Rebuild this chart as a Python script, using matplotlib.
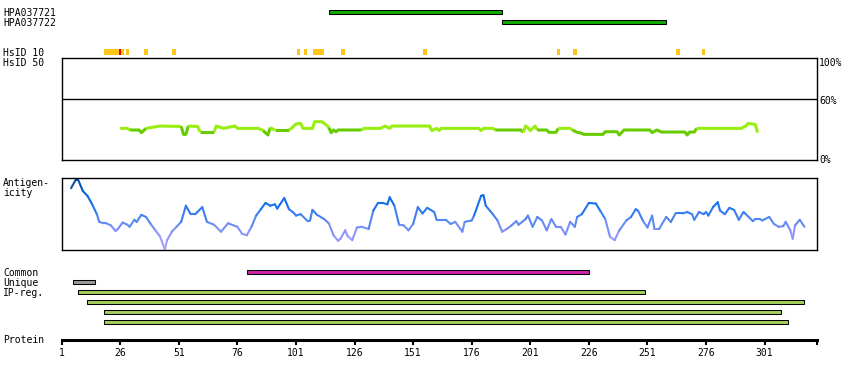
import matplotlib
matplotlib.use('Agg')
import matplotlib.pyplot as plt
from matplotlib.collections import LineCollection
from matplotlib.colors import LinearSegmentedColormap, Normalize
import numpy as np

# datos (posiciones en residuos)
protein_end = 323.5
tick_pos = [1, 26, 51, 76, 101, 126, 151, 176, 201, 226, 251, 276, 301]

antibody_names = ['HPA037721', 'HPA037722']
antibody_start = [115, 189]
antibody_end = [189, 259]

hsid10_start = [20, 26, 27, 29, 37, 49, 102, 105, 109, 121, 156, 213, 220, 264, 275]
hsid10_end = [25, 26, 27, 29, 37, 49, 102, 105, 112, 121, 156, 213, 220, 264, 275]
hsid10_red = [False, True, False, False, False, False, False, False, False,
              False, False, False, False, False, False]

ident_pos = [26, 29, 30, 34, 35, 37, 43, 52, 53, 54, 55, 59, 60, 66, 67, 70, 75, 76,
             85, 87, 89, 90, 92, 98, 99, 101, 103, 104, 108, 109, 112, 114, 115, 116,
             117, 118, 119, 129, 130, 137, 139, 141, 142, 158, 159, 161, 162, 163, 179,
             180, 181, 185, 186, 197, 198, 199, 200, 201, 203, 204, 208, 209, 212, 213,
             218, 219, 221, 222, 224, 232, 233, 238, 239, 241, 252, 253, 255, 257, 267,
             268, 269, 271, 272, 291, 293, 294, 297, 298]
ident_val = [31.1, 31.1, 29.5, 29.5, 26.9, 31.1, 33.4, 33.0, 25.2, 25.2, 33.4, 33.0,
             27.8, 27.8, 33.4, 31.1, 33.4, 31.1, 31.1, 28.9, 24.6, 31.8, 29.5, 29.5,
             31.1, 35.4, 36.0, 31.1, 31.1, 37.7, 37.7, 34.4, 32.0, 26.9, 29.5, 27.8,
             29.5, 29.5, 31.1, 31.1, 33.4, 31.1, 33.4, 33.4, 28.9, 31.1, 28.9, 31.1,
             31.1, 28.9, 31.1, 31.1, 29.5, 29.5, 27.2, 33.4, 31.8, 28.9, 33.4, 29.5,
             29.5, 27.2, 27.2, 31.1, 31.1, 29.5, 27.2, 26.9, 25.2, 25.2, 27.8, 27.8,
             24.6, 29.5, 29.5, 26.9, 29.5, 27.5, 27.5, 24.6, 27.5, 27.5, 31.1, 31.1,
             33.4, 36.0, 35.0, 27.0]

antigen_pos = [5, 7, 8, 10, 12, 14, 16, 17, 19, 20, 22, 24, 25, 27, 29, 30, 32, 33, 35,
               37, 39, 41, 43, 45, 46, 48, 50, 52, 54, 56, 58, 61, 63, 66, 69, 72, 76,
               78, 80, 82, 84, 86, 88, 90, 92, 93, 96, 98, 100, 101, 103, 106, 107, 108,
               110, 113, 115, 117, 119, 120, 122, 123, 125, 127, 129, 132, 134, 136, 138,
               140, 141, 143, 145, 147, 149, 151, 153, 155, 157, 160, 161, 165, 167, 169,
               172, 173, 176, 177, 180, 181, 182, 185, 187, 189, 191, 193, 195, 196, 199,
               200, 202, 204, 206, 208, 210, 212, 214, 216, 218, 220, 221, 223, 226, 229,
               231, 233, 235, 237, 239, 242, 244, 246, 247, 249, 251, 253, 254, 256, 259,
               261, 263, 266, 268, 270, 271, 273, 275, 276, 277, 279, 281, 282, 284, 286,
               288, 290, 292, 293, 296, 297, 299, 300, 303, 305, 307, 309, 310, 312, 313,
               314, 316, 318]
antigen_val = [0.88, 1.0, 1.0, 0.84, 0.77, 0.65, 0.51, 0.40, 0.38, 0.38, 0.35, 0.27,
               0.30, 0.39, 0.36, 0.33, 0.43, 0.40, 0.50, 0.47, 0.37, 0.28, 0.19, 0.01,
               0.14, 0.26, 0.33, 0.40, 0.63, 0.51, 0.51, 0.61, 0.40, 0.36, 0.26, 0.38,
               0.33, 0.23, 0.21, 0.33, 0.49, 0.58, 0.67, 0.63, 0.65, 0.59, 0.74, 0.58,
               0.53, 0.49, 0.51, 0.41, 0.42, 0.57, 0.50, 0.44, 0.38, 0.21, 0.13, 0.16,
               0.28, 0.20, 0.14, 0.32, 0.33, 0.30, 0.56, 0.67, 0.67, 0.65, 0.75, 0.63,
               0.36, 0.35, 0.28, 0.37, 0.61, 0.52, 0.60, 0.54, 0.43, 0.43, 0.37, 0.40,
               0.26, 0.40, 0.42, 0.49, 0.77, 0.78, 0.63, 0.51, 0.42, 0.26, 0.30, 0.35,
               0.41, 0.36, 0.44, 0.49, 0.33, 0.47, 0.42, 0.28, 0.44, 0.33, 0.33, 0.22,
               0.40, 0.33, 0.47, 0.51, 0.67, 0.66, 0.55, 0.44, 0.19, 0.14, 0.28, 0.42,
               0.47, 0.58, 0.56, 0.42, 0.32, 0.49, 0.30, 0.30, 0.47, 0.40, 0.52, 0.52,
               0.54, 0.51, 0.43, 0.54, 0.51, 0.54, 0.49, 0.61, 0.68, 0.56, 0.51, 0.60,
               0.57, 0.43, 0.54, 0.51, 0.41, 0.44, 0.44, 0.42, 0.47, 0.37, 0.33, 0.34,
               0.40, 0.28, 0.16, 0.35, 0.43, 0.33]

common_start, common_end = 80, 226
unique_start, unique_end = 6, 15
ipreg_start = [8, 12, 19, 19]
ipreg_end = [250, 318, 308, 311]

W, H = 850, 380
FONT = dict(family='DejaVu Sans Mono', fontsize=7)
BAR_H = 3.8  # alto de las barras en pixeles

fig = plt.figure(figsize=(W / 100, H / 100), dpi=100)


def ejes_px(x0, y0, x1, y1):
    """ Crea unos ejes a partir de una caja en pixeles (origen arriba a la izquierda). """
    return fig.add_axes([x0 / W, 1 - y1 / H, (x1 - x0) / W, (y1 - y0) / H])


def texto(x, y, s, **kw):
    fig.text(x / W, 1 - y / H, s, va='center', **FONT, **kw)


X0, X1 = 61.7, 817.3

# --- pista superior: anticuerpos y marcas HsID 10 ---
ax_top = ejes_px(X0, 0, X1, 57)
ax_top.set_xlim(1, protein_end)
ax_top.set_ylim(57, 0)
ax_top.axis('off')
for i, (s, e) in enumerate(zip(antibody_start, antibody_end)):
    ax_top.barh(12.3 + 10 * i, e - s, left=s, height=BAR_H, color='#11aa00',
                edgecolor='black', linewidth=0.75)
for s, e, red in zip(hsid10_start, hsid10_end, hsid10_red):
    ax_top.barh(52, e - s + 1.5, left=s - 0.75, height=6,
                color='#dd0000' if red else '#ffc61a', linewidth=0)

# --- identidad (HsID 50) ---
ax_id = ejes_px(X0, 58.3, X1, 160)
ax_id.set_xlim(1, protein_end)
ax_id.set_ylim(0, 100)
ax_id.set_xticks([])
ax_id.set_yticks([])
for sp in ax_id.spines.values():
    sp.set_linewidth(1.0)
ax_id.axhline(60, color='black', lw=1.0)

# tramos de color segun el valor (claro >= 30 %)
pos = np.array(ident_pos)
val = np.array(ident_val)
claro = (val[:-1] + val[1:]) / 2 >= 30
inicio = 0
for k in range(1, len(claro) + 1):
    if k == len(claro) or claro[k] != claro[inicio]:
        ax_id.plot(pos[inicio:k + 1], val[inicio:k + 1], lw=2.2,
                   color='#99ee11' if claro[inicio] else '#66cc00',
                   solid_capstyle='butt')
        inicio = k

# --- antigenicidad ---
ax_ag = ejes_px(X0, 178.3, X1, 250)
ax_ag.set_xlim(1, protein_end)
ax_ag.set_ylim(0, 1.02)
ax_ag.set_xticks([])
ax_ag.set_yticks([])
for sp in ax_ag.spines.values():
    sp.set_linewidth(1.0)
cmap = LinearSegmentedColormap.from_list(
    'antig', [(0, '#b4a2ff'), (0.25, '#8c94fa'), (0.45, '#4d85f0'),
              (0.65, '#1570ee'), (0.82, '#0a62d8'), (1.0, '#0a4a90')])
puntos = np.column_stack([antigen_pos, antigen_val]).reshape(-1, 1, 2)
segs = np.concatenate([puntos[:-1], puntos[1:]], axis=1)
lc = LineCollection(segs, cmap=cmap, norm=Normalize(0, 1), linewidth=1.5,
                    capstyle='round')
lc.set_array((np.array(antigen_val[:-1]) + np.array(antigen_val[1:])) / 2)
ax_ag.add_collection(lc)

# --- regiones y eje de proteina ---
ax_bot = ejes_px(X0, 265, X1, 339.5)
ax_bot.set_xlim(1, protein_end)
ax_bot.set_ylim(339.5, 265)
for lado in ['top', 'left', 'right']:
    ax_bot.spines[lado].set_visible(False)
ax_bot.spines['bottom'].set_linewidth(2.2)
ax_bot.set_yticks([])
ax_bot.set_xticks(tick_pos + [protein_end])
ax_bot.set_xticklabels([str(t) for t in tick_pos] + [''], **FONT)
ax_bot.tick_params(axis='x', length=3.4, width=1.5, pad=2.5)

ax_bot.barh(272.3, common_end - common_start, left=common_start, height=BAR_H,
            color='#cc22aa', edgecolor='black', linewidth=0.75)
ax_bot.barh(282.3, unique_end - unique_start, left=unique_start, height=BAR_H,
            color='#999999', edgecolor='black', linewidth=0.75)
for i, (s, e) in enumerate(zip(ipreg_start, ipreg_end)):
    ax_bot.barh(292.3 + 10 * i, e - s, left=s, height=BAR_H, color='#a3cc5c',
                edgecolor='black', linewidth=0.75)

# --- etiquetas ---
texto(3, 13, antibody_names[0])
texto(3, 23, antibody_names[1])
texto(3, 52.5, 'HsID 10')
texto(3, 62.5, 'HsID 50')
texto(3, 183, 'Antigen-')
texto(3, 193, 'icity')
texto(3, 273, 'Common')
texto(3, 283, 'Unique')
texto(3, 293, 'IP-reg.')
texto(3, 340, 'Protein')
texto(819, 62.5, '100%')
texto(819, 100.5, '60%')
texto(819, 160.3, '0%')

fig.savefig('out.png', dpi=100)
